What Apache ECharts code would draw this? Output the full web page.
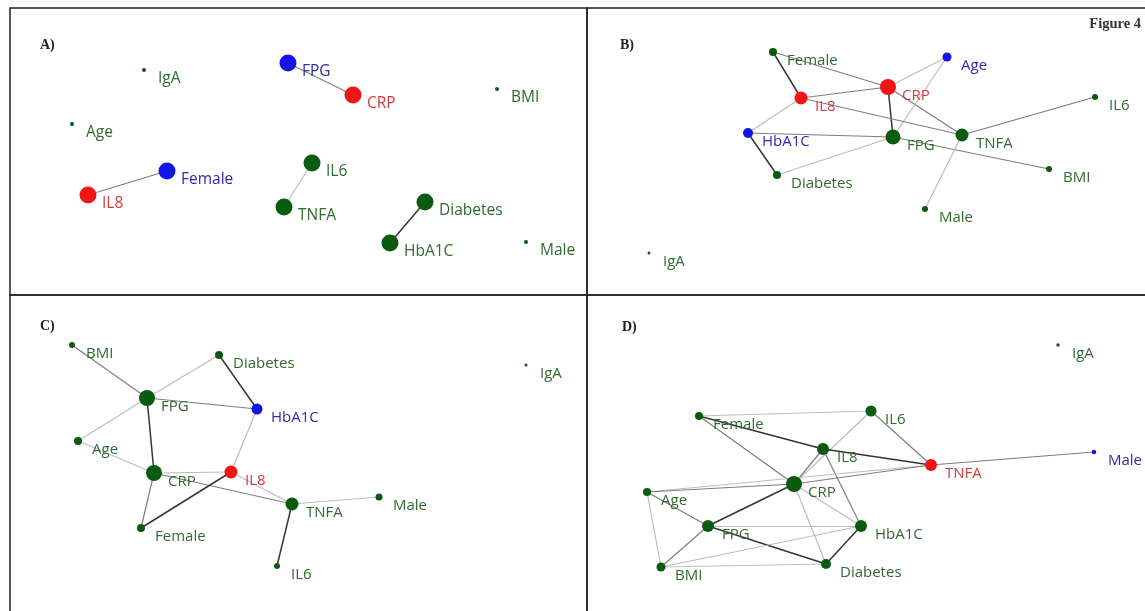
<!DOCTYPE html>
<html>
<head>
<meta charset="utf-8">
<script src="https://cdn.jsdelivr.net/npm/echarts@6/dist/echarts.min.js"></script>
<style>
html,body{margin:0;padding:0;background:#fff;}
#chart{width:1145px;height:611px;}
</style>
</head>
<body>
<div id="chart"></div>
<script>
// ---------- DATA (node positions, in figure pixel units) ----------
// Panel A
const aNames = ['IgA','FPG','CRP','BMI','Age','Female','IL8','IL6','TNFA','Diabetes','HbA1C','Male'];
const aX     = [144, 288, 353, 497, 72, 167, 88, 312, 284, 425, 390, 526];
const aY     = [70, 63, 95, 89, 124, 171, 195, 163, 207, 202, 243, 242];
const aSize  = [4, 17, 17, 4, 4, 17, 17, 17, 17, 17, 17, 4];
const aGroup = ['g','b','r','g','g','b','r','g','g','g','g','g'];
const aLinks = [['FPG','CRP',2],['IL8','Female',2],['IL6','TNFA',1],['Diabetes','HbA1C',3]];

// Panel B
const bNames = ['Female','Age','CRP','IL8','IL6','HbA1C','FPG','TNFA','Diabetes','BMI','Male','IgA'];
const bX     = [773, 947, 888, 801, 1095, 748, 893, 962, 777, 1049, 925, 649];
const bY     = [52, 57, 87, 98, 97, 133, 137, 135, 175, 169, 209, 253];
const bSize  = [8, 9, 16, 13, 6, 10, 15, 13, 8, 6, 6, 3];
const bGroup = ['g','b','r','r','g','b','g','g','g','g','g','g'];
const bLinks = [['Female','IL8',3],['Female','CRP',2],['IL8','CRP',2],['CRP','Age',1],['CRP','FPG',3],
  ['CRP','TNFA',2],['Age','FPG',1],['IL8','TNFA',2],['IL8','HbA1C',1],['HbA1C','FPG',2],
  ['HbA1C','Diabetes',3],['Diabetes','FPG',1],['FPG','BMI',2],['TNFA','IL6',2],['TNFA','Male',1]];

// Panel C
const cNames = ['BMI','Diabetes','IgA','FPG','HbA1C','Age','CRP','IL8','TNFA','Male','Female','IL6'];
const cX     = [72, 219, 526, 147, 257, 78, 154, 231, 292, 379, 141, 277];
const cY     = [345, 355, 365, 398, 409, 441, 473, 472, 504, 497, 528, 566];
const cSize  = [6, 8, 3, 16, 11, 8, 16, 13, 13, 7, 8, 6];
const cGroup = ['g','g','g','g','b','g','g','r','g','g','g','g'];
const cLinks = [['BMI','FPG',2],['Diabetes','FPG',1],['Diabetes','HbA1C',3],['FPG','HbA1C',2],['FPG','Age',1],
  ['FPG','CRP',3],['Age','CRP',1],['CRP','IL8',1],['CRP','TNFA',2],['CRP','Female',2],['IL8','HbA1C',1],
  ['IL8','Female',3],['IL8','TNFA',1],['TNFA','Male',1],['TNFA','IL6',3]];

// Panel D
const dNames = ['IgA','Female','IL6','IL8','Male','TNFA','CRP','Age','FPG','HbA1C','BMI','Diabetes'];
const dX     = [1058, 699, 871, 823, 1094, 931, 794, 647, 708, 861, 661, 826];
const dY     = [345, 416, 411, 449, 452, 465, 484, 492, 526, 526, 567, 564];
const dSize  = [3.5, 8, 11, 12, 4.5, 12, 16, 8, 12, 12, 9, 10];
const dGroup = ['g','g','g','g','b','r','g','g','g','g','g','g'];
const dLinks = [['Female','IL6',1],['Female','IL8',3],['Female','CRP',2],['IL6','TNFA',2],['IL6','CRP',1],
  ['IL8','TNFA',3],['IL8','HbA1C',2],['IL8','CRP',2],['Age','TNFA',1],['Age','CRP',2],['CRP','TNFA',2],
  ['Age','FPG',2],['Age','BMI',1],['CRP','FPG',3],['CRP','HbA1C',1],['CRP','Diabetes',1],['FPG','HbA1C',1],
  ['FPG','Diabetes',3],['FPG','BMI',2],['BMI','HbA1C',1],['BMI','Diabetes',1],['HbA1C','Diabetes',3],
  ['TNFA','Male',2]];

const panelLetters = ['A)','B)','C)','D)'];
const figureTitle = 'Figure 4';

// ---------- STYLES ----------
const nodeColor = {g:'#0a5a0f', b:'#1414e6', r:'#f01616'};
const textColor = {g:'#2f6b2f', b:'#2c2ca8', r:'#d23c3c'};
const linkColor = {1:'#bdbdbd', 2:'#7e7e7e', 3:'#353535'};

const panels = [
  {names:aNames,x:aX,y:aY,size:aSize,group:aGroup,links:aLinks,box:[10,8,587,295],font:15.5},
  {names:bNames,x:bX,y:bY,size:bSize,group:bGroup,links:bLinks,box:[587,8,1150,295],font:15},
  {names:cNames,x:cX,y:cY,size:cSize,group:cGroup,links:cLinks,box:[10,295,587,616],font:15},
  {names:dNames,x:dX,y:dY,size:dSize,group:dGroup,links:dLinks,box:[587,295,1150,616],font:15}
];

const grid = [], xAxis = [], yAxis = [], series = [];
panels.forEach((p, i) => {
  const [x0,y0,x1,y1] = p.box;
  grid.push({left:x0, top:y0, width:x1-x0, height:y1-y0, show:true, outerBoundsMode:'none',
    containLabel:false, borderColor:'#222', borderWidth:1.5, backgroundColor:'transparent'});
  xAxis.push({type:'value', gridIndex:i, min:x0, max:x1, show:false});
  yAxis.push({type:'value', gridIndex:i, min:y0, max:y1, inverse:true, show:false});
  series.push({
    type:'graph', coordinateSystem:'cartesian2d', xAxisIndex:i, yAxisIndex:i,
    layout:'none', symbol:'circle', silent:true, animation:false,
    z: 3,
    data: p.names.map((n, k) => ({
      name:n, value:[p.x[k], p.y[k]], symbolSize:p.size[k],
      itemStyle:{color:nodeColor[p.group[k]]},
      label:{show:true, formatter:'{b}', position:['50%','50%'], align:'left', verticalAlign:'middle',
        offset:[14, 9], color:textColor[p.group[k]], fontFamily:'Open Sans', fontSize:p.font}
    })),
    links: p.links.map(l => ({source:l[0], target:l[1],
      lineStyle:{color:linkColor[l[2]], width:l[2]===3?1.5:1.2, opacity:1, curveness:0}})),
    lineStyle:{opacity:1}
  });
});

const titles = [
  {text:panelLetters[0], left:40, top:38},
  {text:panelLetters[1], left:620, top:38},
  {text:panelLetters[2], left:40, top:319},
  {text:panelLetters[3], left:622, top:320},
].map(t => Object.assign(t, {padding:0, textStyle:{fontFamily:'Liberation Serif', fontWeight:'bold', fontSize:14, color:'#222'}}));
titles.push({text:figureTitle, right:4, top:17, padding:0,
  textStyle:{fontFamily:'Liberation Serif', fontWeight:'bold', fontSize:14.5, color:'#333'}});

const chart = echarts.init(document.getElementById('chart'), null, {renderer:'canvas'});
chart.setOption({
  backgroundColor:'#fff',
  animation:false,
  title: titles,
  grid, xAxis, yAxis, series
});
</script>
</body>
</html>
